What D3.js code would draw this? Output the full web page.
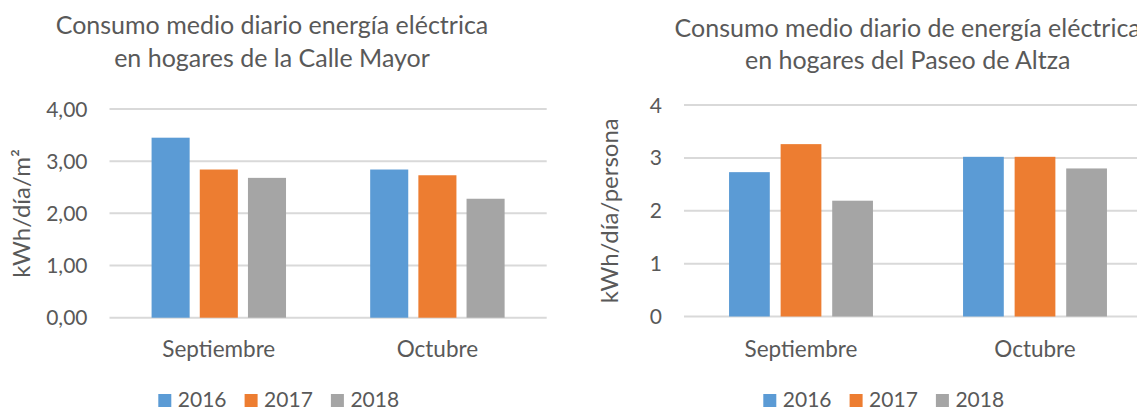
<!DOCTYPE html>
<html>
<head>
<meta charset="utf-8">
<script src="https://cdn.jsdelivr.net/npm/d3@7"></script>
<style>
  body { margin: 0; background: #fff; }
  text { font-family: Lato, "Open Sans", sans-serif; fill: #595959; }
</style>
</head>
<body>
<div id="charts"></div>
<script>
var months = ["Septiembre", "Octubre"];
var years = ["2016", "2017", "2018"];
var colors = ["#5B9BD5", "#ED7D31", "#A5A5A5"];

// Calle Mayor, kWh/dia/m2
var mayor2016 = [3.45, 2.84];
var mayor2017 = [2.84, 2.73];
var mayor2018 = [2.68, 2.28];
var mayorTicks = [0, 1, 2, 3, 4];

// Paseo de Altza, kWh/dia/persona
var altza2016 = [2.73, 3.02];
var altza2017 = [3.26, 3.02];
var altza2018 = [2.19, 2.80];
var altzaTicks = [0, 1, 2, 3, 4];

var svg = d3.select("#charts")
  .append("svg")
    .attr("width", 1137)
    .attr("height", 410);

function drawChart(o) {
  var g = svg.append("g");

  var rows = months.map(function(m, i) {
    return { month: m, values: o.series.map(function(s) { return s[i]; }) };
  });

  var x0 = d3.scaleBand()
    .domain(months)
    .range([o.left, o.right])
    .paddingInner(0.385)
    .paddingOuter(0.1925);

  var x1 = d3.scaleBand()
    .domain(years)
    .range([0, x0.bandwidth()])
    .paddingInner(0.21);

  var y = d3.scaleLinear()
    .domain([0, 4])
    .range([o.bottom, o.top]);

  // gridlines
  g.selectAll(".grid")
    .data(o.ticks)
    .enter()
    .append("line")
      .attr("x1", o.left)
      .attr("x2", o.right)
      .attr("y1", function(d) { return y(d); })
      .attr("y2", function(d) { return y(d); })
      .attr("stroke", "#D9D9D9")
      .attr("stroke-width", 2);

  // y tick labels
  g.selectAll(".tick")
    .data(o.ticks)
    .enter()
    .append("text")
      .attr("x", o.left - 22)
      .attr("y", function(d) { return y(d); })
      .attr("dy", "0.36em")
      .attr("text-anchor", "end")
      .style("font-size", "21px")
      .text(o.fmt);

  // bars
  var groups = g.selectAll(".month")
    .data(rows)
    .enter()
    .append("g")
      .attr("transform", function(d) { return "translate(" + x0(d.month) + ",0)"; });

  groups.selectAll("rect")
    .data(function(d) { return d.values; })
    .enter()
    .append("rect")
      .attr("x", function(d, i) { return x1(years[i]); })
      .attr("y", function(d) { return y(d); })
      .attr("width", x1.bandwidth())
      .attr("height", function(d) { return y(0) - y(d); })
      .attr("fill", function(d, i) { return colors[i]; });

  // category labels
  g.selectAll(".cat")
    .data(months)
    .enter()
    .append("text")
      .attr("x", function(d) { return x0(d) + x0.bandwidth() / 2; })
      .attr("y", 356.5)
      .attr("text-anchor", "middle")
      .style("font-size", "22.5px")
      .text(function(d) { return d; });

  // y axis title
  g.append("text")
    .attr("transform", "translate(" + o.yLabelX + "," + (o.top + o.bottom) / 2 + ")rotate(-90)")
    .attr("text-anchor", "middle")
    .style("font-size", "24px")
    .text(o.yLabel);

  // chart title
  g.selectAll(".title")
    .data(o.title)
    .enter()
    .append("text")
      .attr("x", o.titleX)
      .attr("y", function(d, i) { return o.titleY[i]; })
      .attr("text-anchor", "middle")
      .style("font-size", "25px")
      .text(function(d) { return d; });

  // legend
  var leg = g.selectAll(".legend")
    .data(years)
    .enter()
    .append("g")
      .attr("transform", function(d, i) { return "translate(" + (o.legendX + i * 86.3) + ",394)"; });
  leg.append("rect")
    .attr("width", 13)
    .attr("height", 13)
    .attr("fill", function(d, i) { return colors[i]; });
  leg.append("text")
    .attr("x", 19.5)
    .attr("y", 13.3)
    .style("font-size", "21px")
    .text(function(d) { return d; });
}

drawChart({
  series: [mayor2016, mayor2017, mayor2018],
  ticks: mayorTicks,
  fmt: function(d) { return d3.format(".2f")(d).replace(".", ","); },
  left: 109.5, right: 546.7, top: 109, bottom: 317.7,
  yLabel: "kWh/día/m²", yLabelX: 30,
  title: ["Consumo medio diario energía eléctrica", "en hogares de la Calle Mayor"],
  titleX: 272, titleY: [34, 67],
  legendX: 158.3
});

drawChart({
  series: [altza2016, altza2017, altza2018],
  ticks: altzaTicks,
  fmt: function(d) { return d; },
  left: 684, right: 1152, top: 105, bottom: 316.5,
  yLabel: "kWh/día/persona", yLabelX: 618,
  title: ["Consumo medio diario de energía eléctrica", "en hogares del Paseo de Altza"],
  titleX: 907.7, titleY: [37, 69],
  legendX: 763.3
});
</script>
</body>
</html>
